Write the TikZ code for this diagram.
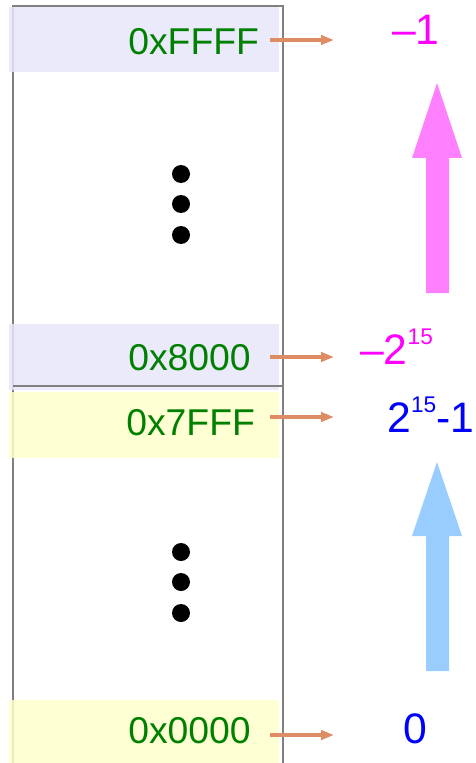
\documentclass[tikz,border=0pt]{standalone}
\usepackage{fontspec}
\setmainfont{Liberation Sans}
\usepackage{tikz}
\usepackage{xcolor}
\usetikzlibrary{arrows.meta}

\definecolor{addrgreen}{RGB}{0,128,0}
\definecolor{negval}{RGB}{255,0,255}
\definecolor{posval}{RGB}{0,0,255}
\definecolor{negband}{RGB}{230,230,250}
\definecolor{posband}{RGB}{255,255,204}
\definecolor{ptrcol}{RGB}{221,140,100}
\definecolor{negarrow}{RGB}{255,128,255}
\definecolor{posarrow}{RGB}{153,204,255}

\newcommand{\pwr}[1]{\raisebox{14.5pt}{\fontsize{17}{17}\selectfont #1}}

\begin{document}
\begin{tikzpicture}[x=0.75pt,y=-0.75pt,
  addr/.style={anchor=base west, inner sep=0pt, text=addrgreen, font=\fontsize{28}{34}\selectfont},
  val/.style={anchor=base west, inner sep=0pt, font=\fontsize{32}{38}\selectfont},
  ptr/.style={ptrcol, line width=3pt, -{Triangle[length=9.75pt,width=7pt]}}]
\useasboundingbox (0,0) rectangle (475,763);

% memory column
\draw [gray, line width=1.1pt] (13,763) -- (13,6) -- (283,6) -- (283,763);
\fill [negband, fill opacity=0.85] (9,7) rectangle (279,72);
\fill [negband, fill opacity=0.85] (9,324) rectangle (279,390);
\fill [posband, fill opacity=0.85] (9,392) rectangle (279,458);
\fill [posband, fill opacity=0.85] (9,700) rectangle (279,763);
\draw [gray, line width=1.1pt] (13,386) -- (283,386);

% addresses
\node [addr] (aFFFF) at (128,55) {0xFFFF};
\node [addr] (a8000) at (128,370) {0x8000};
\node [addr] (a7FFF) at (126,435) {0x7FFF};
\node [addr] (a0000) at (128,743) {0x0000};

\foreach \y in {174,204,235,552,582,613}
  \fill (181,\y) circle [radius=6.75pt];

% values
\node [val, text=negval] (vneg1) at (392,45) {--1};
\node [val, text=negval] (vmin) at (360,364) {--2\pwr{15}};
\node [val, text=posval] (vmax) at (387,432) {2\pwr{15}-1};
\node [val, text=posval] (vzero) at (403,743) {0};

% pointers
\coordinate (pF) at (270,40);  \coordinate (qF) at (334,40);
\coordinate (p8) at (270,357); \coordinate (q8) at (334,357);
\coordinate (p7) at (270,417); \coordinate (q7) at (334,417);
\coordinate (p0) at (270,735); \coordinate (q0) at (334,735);
\draw [ptr] (pF) -- (qF);
\draw [ptr] (p8) -- (q8);
\draw [ptr] (p7) -- (q7);
\draw [ptr] (p0) -- (q0);

% direction arrows
\fill [negarrow] (426,293) -- (426,158) -- (412,158) -- (437,83) -- (462,158) -- (449,158) -- (449,293) -- cycle;
\fill [posarrow] (426,671) -- (426,536) -- (412,536) -- (437,462) -- (462,536) -- (449,536) -- (449,671) -- cycle;
\end{tikzpicture}
\end{document}
